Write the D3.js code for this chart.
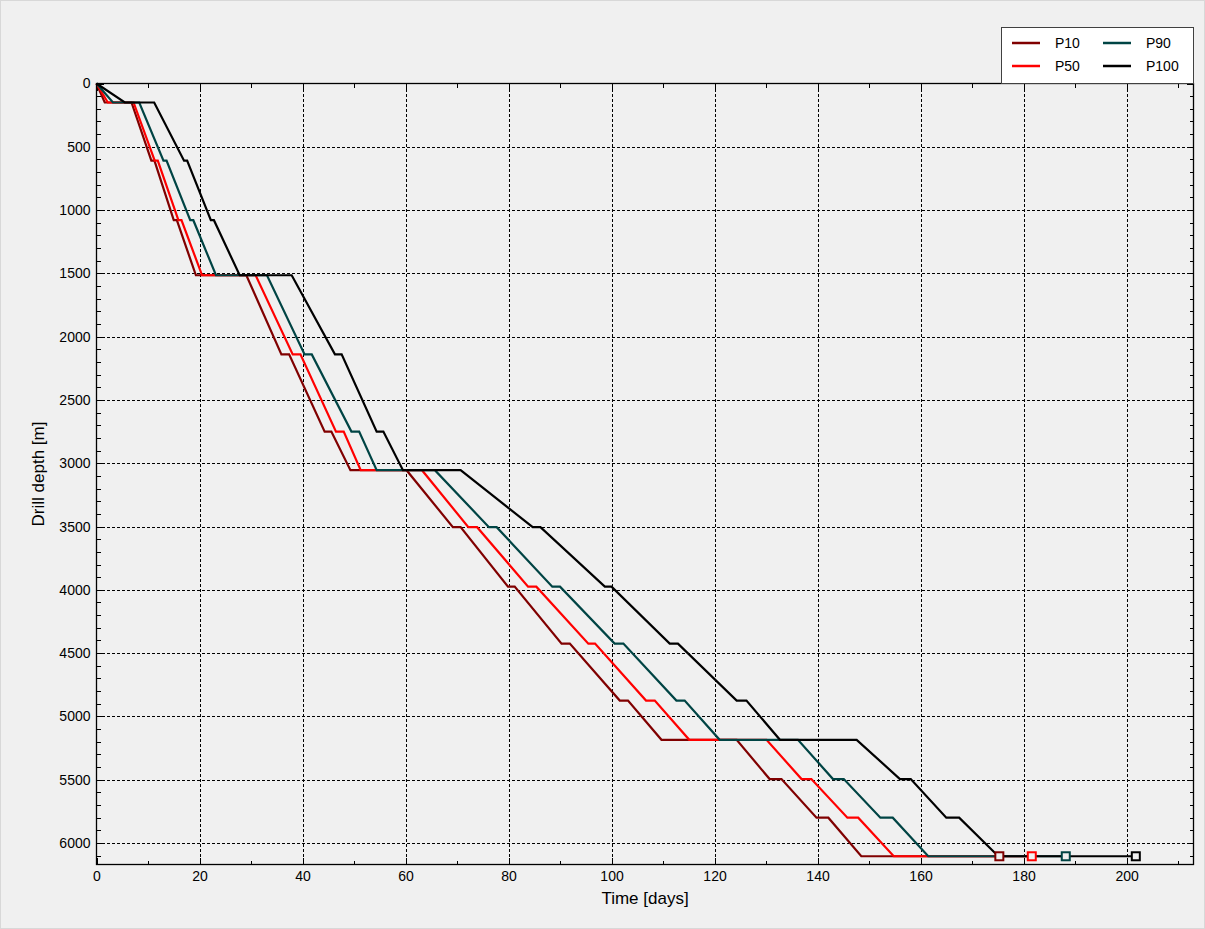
<!DOCTYPE html>
<html>
<head>
  <meta charset="utf-8">
  <title>Drill depth vs time</title>
  <script src="https://d3js.org/d3.v7.min.js"></script>
  <style>
    body {
      margin: 0;
      background-color: #f0f0f0;
      font-family: "Liberation Sans", Arial, sans-serif;
    }
    .grid line {
      stroke: #000;
      stroke-dasharray: 3,2;
      shape-rendering: crispEdges;
    }
    .tick-label {
      font-size: 14px;
      fill: #000;
    }
  </style>
</head>
<body>
  <div id="chart"></div>

  <script>
    // series: [day, depth m]
    const p10 = [[0,0],[1.6,150],[6.8,150],[10.65,610],[11.25,610],[15.0,1080],[15.6,1080],[19.3,1515],
      [29.1,1515],[35.9,2140],[37.4,2140],[44.3,2750],[45.6,2750],[49.3,3055],
      [60.2,3055],[69.2,3505],[70.7,3505],[79.9,3975],[81.2,3975],[90.3,4425],[91.9,4425],[101.6,4875],[103.2,4875],[109.7,5185],
      [124.3,5185],[130.7,5495],[133.0,5495],[139.8,5800],[142.1,5800],[148.5,6105],[175.3,6105]];
    const p50 = [[0,0],[2.2,150],[7.2,150],[11.3,610],[11.9,610],[15.9,1080],[16.5,1080],[20.5,1515],
      [30.9,1515],[38.1,2140],[39.6,2140],[46.5,2750],[48.0,2750],[51.3,3055],
      [63.2,3055],[72.2,3505],[73.9,3505],[83.8,3975],[85.4,3975],[95.5,4425],[96.8,4425],[106.7,4875],[108.4,4875],[115.1,5185],
      [130.1,5185],[136.9,5495],[138.8,5495],[145.8,5800],[147.9,5800],[154.8,6105],[181.6,6105]];
    const p90 = [[0,0],[3.2,150],[8.3,150],[13.0,610],[13.6,610],[18.2,1080],[18.8,1080],[23.2,1515],
      [33.1,1515],[40.4,2140],[41.8,2140],[49.5,2750],[51.0,2750],[54.4,3055],
      [65.7,3055],[76.2,3505],[77.7,3505],[88.5,3975],[90.0,3975],[100.6,4425],[102.3,4425],[112.6,4875],[114.2,4875],[121.0,5185],
      [136.2,5185],[143.0,5495],[145.1,5495],[152.2,5800],[154.6,5800],[161.5,6105],[188.2,6105]];
    const p100 = [[0,0],[5.5,150],[11.2,150],[17.0,610],[17.6,610],[22.2,1080],[22.8,1080],[27.8,1515],
      [37.9,1515],[46.3,2140],[47.6,2140],[54.4,2750],[55.7,2750],[59.5,3055],
      [70.7,3055],[84.7,3505],[86.2,3505],[98.7,3975],[100.0,3975],[111.3,4425],[112.9,4425],[124.3,4875],[126.2,4875],[132.7,5185],
      [147.6,5185],[156.0,5495],[158.1,5495],[165.0,5800],[167.5,5800],[175.1,6105],[201.8,6105]];

    const seriesNames = ["P10", "P50", "P90", "P100"];
    const seriesColors = ["#800000", "#ff0000", "#004444", "#000000"];
    const seriesData = [p10, p50, p90, p100];

    const xMajor = [0, 20, 40, 60, 80, 100, 120, 140, 160, 180, 200];
    const yMajor = [0, 500, 1000, 1500, 2000, 2500, 3000, 3500, 4000, 4500, 5000, 5500, 6000];
    const xDomain = [0, 213];
    const yDomain = [0, 6170];

    const width = 1205, height = 929;
    const plot = { left: 96.5, top: 83.5, right: 1193.5, bottom: 864.5 };

    const svg = d3.select("#chart").append("svg")
      .attr("width", width)
      .attr("height", height);

    svg.append("rect")
      .attr("x", 0.5).attr("y", 0.5)
      .attr("width", width - 1).attr("height", height - 1)
      .attr("fill", "#f0f0f0")
      .attr("stroke", "#d8d8d8");

    const x = d3.scaleLinear().domain(xDomain).range([plot.left, plot.right]);
    const y = d3.scaleLinear().domain(yDomain).range([plot.top, plot.bottom]);

    // grid
    const grid = svg.append("g").attr("class", "grid");
    grid.selectAll(".gx").data(xMajor.filter(d => d > 0))
      .enter().append("line")
      .attr("x1", d => Math.round(x(d)) + 0.5).attr("x2", d => Math.round(x(d)) + 0.5)
      .attr("y1", plot.top).attr("y2", plot.bottom);
    grid.selectAll(".gy").data(yMajor.filter(d => d > 0))
      .enter().append("line")
      .attr("y1", d => Math.round(y(d)) + 0.5).attr("y2", d => Math.round(y(d)) + 0.5)
      .attr("x1", plot.left).attr("x2", plot.right);

    // tick labels
    const gxb = svg.append("g").attr("transform", `translate(0,${plot.bottom})`)
      .call(d3.axisBottom(x).tickValues(xMajor).tickFormat(d3.format("d")).tickSize(0).tickPadding(7));
    gxb.select(".domain").remove();
    gxb.selectAll("text").attr("class", "tick-label").style("font-family", "inherit");

    const gyl = svg.append("g").attr("transform", `translate(${plot.left},0)`)
      .call(d3.axisLeft(y).tickValues(yMajor).tickFormat(d3.format("d")).tickSize(0).tickPadding(6));
    gyl.select(".domain").remove();
    gyl.selectAll("text").attr("class", "tick-label").style("font-family", "inherit");

    // ticks on all four sides, pointing inside
    const xMinor = d3.range(10, 213, 20);
    const yMinor = d3.range(0, 6170, 100).filter(d => d % 500 !== 0);
    const ticks = svg.append("g").attr("stroke", "#000").attr("shape-rendering", "crispEdges");
    function xt(vals, len) {
      vals.forEach(v => {
        const px = Math.round(x(v)) + 0.5;
        ticks.append("line").attr("x1", px).attr("x2", px).attr("y1", plot.bottom).attr("y2", plot.bottom - len);
        ticks.append("line").attr("x1", px).attr("x2", px).attr("y1", plot.top).attr("y2", plot.top + len);
      });
    }
    function yt(vals, len) {
      vals.forEach(v => {
        const py = Math.round(y(v)) + 0.5;
        ticks.append("line").attr("y1", py).attr("y2", py).attr("x1", plot.left).attr("x2", plot.left + len);
        ticks.append("line").attr("y1", py).attr("y2", py).attr("x1", plot.right).attr("x2", plot.right - len);
      });
    }
    xt(xMinor, 4); xt(xMajor, 7);
    yt(yMinor, 4); yt(yMajor, 7);

    // lines
    const line = d3.line().x(d => x(d[0])).y(d => y(d[1]));
    seriesData.forEach((s, i) => {
      svg.append("path")
        .datum(s)
        .attr("fill", "none")
        .attr("stroke", seriesColors[i])
        .attr("stroke-width", 2.2)
        .attr("d", line);
    });

    // end markers
    seriesData.forEach((s, i) => {
      const last = s[s.length - 1];
      svg.append("rect")
        .attr("x", x(last[0]) - 4).attr("y", y(last[1]) - 4)
        .attr("width", 8).attr("height", 8)
        .attr("fill", "#f0f0f0")
        .attr("stroke", seriesColors[i])
        .attr("stroke-width", 2);
    });

    // frame
    svg.append("rect")
      .attr("x", plot.left).attr("y", plot.top)
      .attr("width", plot.right - plot.left).attr("height", plot.bottom - plot.top)
      .attr("fill", "none")
      .attr("stroke", "#000")
      .attr("stroke-width", 1.3);

    // axis titles
    svg.append("text")
      .attr("x", (plot.left + plot.right) / 2).attr("y", 904)
      .attr("text-anchor", "middle")
      .style("font-size", "17px")
      .text("Time [days]");
    svg.append("text")
      .attr("transform", `translate(44,${(plot.top + plot.bottom) / 2}) rotate(-90)`)
      .attr("text-anchor", "middle")
      .style("font-size", "17px")
      .text("Drill depth [m]");

    // legend
    const lg = svg.append("g");
    lg.append("rect")
      .attr("x", 1001.5).attr("y", 27.5)
      .attr("width", plot.right - 1001.5).attr("height", plot.top - 27.5)
      .attr("fill", "#fff")
      .attr("stroke", "#404040");
    const legPos = [[1012, 43], [1012, 66], [1103, 43], [1103, 66]];
    seriesNames.forEach((n, i) => {
      const [lx, ly] = legPos[i];
      lg.append("line")
        .attr("x1", lx).attr("x2", lx + 28)
        .attr("y1", ly).attr("y2", ly)
        .attr("stroke", seriesColors[i]).attr("stroke-width", 2.5);
      lg.append("text")
        .attr("x", lx + 43).attr("y", ly + 5)
        .style("font-size", "14px")
        .text(n);
    });
  </script>
</body>
</html>
